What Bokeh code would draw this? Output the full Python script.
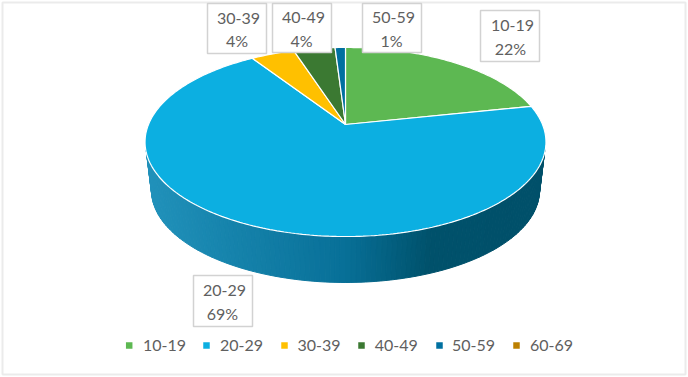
import numpy as np
from bokeh.plotting import figure
from bokeh.models import Range1d
from bokeh.core.properties import value
from bokeh.embed import file_html
from bokeh.resources import INLINE

categories = ["10-19", "20-29", "30-39", "40-49", "50-59", "60-69"]
shares = [21.7, 69.1, 4.2, 4.0, 1.0, 0.0]
colors = ["#5DB852", "#0CAFE1", "#FFC000", "#3B7932", "#0070A0", "#BC8000"]

# layout (page pixels)
W, H = 688, 377
CX, CY, AX, BY, K = 345.0, 124.0, 197.0, 91.3, 0.185
BOX = {"10-19": (480, 10, 539, 61, 512, 510), "20-29": (193, 275, 252, 326, 224, 222),
       "30-39": (207, 3, 266, 53, 238, 236.5), "40-49": (272, 3, 331, 52, 303, 301),
       "50-59": (362, 3, 421, 52, 393, 391)}
LEG_MARK = [128.7, 206, 284, 361, 439, 516]
LEG_TEXT = [142.5, 219.5, 297, 374.2, 451.5, 529.5]
FONT = value("Lato")
TXT = "#606060"
FS = "16px"


def project(angle):
    u, v = np.sin(angle), np.cos(angle)
    d = 1 + K * v
    return CX + AX * u / d, CY - BY * v / d


p = figure(width=W, height=H, output_backend="svg", toolbar_location=None,
           x_range=Range1d(0, W), y_range=Range1d(H, 0),
           min_border=0, outline_line_color=None, background_fill_color="white",
           border_fill_color="white")
p.axis.visible = False
p.grid.visible = False
p.styles = {"position": "absolute", "left": "0px", "top": "0px"}

# frame
p.quad(left=[2], right=[685], top=[2], bottom=[374], fill_color="white",
       line_color="#EBEBEB", line_width=2)

# side wall, shaded left to right
stops_x = [145, 345, 430, 545]
stops_c = [(33, 146, 187), (8, 112, 152), (0, 82, 108), (0, 80, 106)]
ts = np.linspace(np.pi, 0, 121)
xs_wall, ys_wall, cs_wall = [], [], []
for a, b in zip(ts[:-1], ts[1:]):
    xa, xb = 345 + 200 * np.cos(a), 345 + 200 * np.cos(b)
    qx = [xa, xb, 345 + 194 * np.cos(b), 345 + 194 * np.cos(a)]
    qy = [141.5 + 94.5 * np.sin(a), 141.5 + 94.5 * np.sin(b),
          190 + 92 * np.sin(b), 190 + 92 * np.sin(a)]
    m = (xa + xb) / 2
    rgb = [int(np.interp(m, stops_x, [c[i] for c in stops_c])) for i in range(3)]
    xs_wall.append(qx)
    ys_wall.append(qy)
    cs_wall.append("#%02x%02x%02x" % tuple(rgb))
p.patches(xs_wall, ys_wall, fill_color=cs_wall, line_color=cs_wall, line_width=1)

# pie top
start = 0.0
total = sum(shares)
for cat, share, col in zip(categories, shares, colors):
    if share <= 0:
        continue
    sweep = share / total * 2 * np.pi
    ang = np.linspace(start, start + sweep, max(3, int(share * 4)))
    ex, ey = project(ang)
    p.patch(np.r_[CX, ex], np.r_[CY, ey], fill_color=col, line_color="white", line_width=1.2)
    start += sweep

# data labels
for cat, share in zip(categories, shares):
    if share <= 0:
        continue
    x0, y0, x1, y1, tx1, tx2 = BOX[cat]
    p.quad(left=[x0], right=[x1], top=[y0], bottom=[y1], fill_color="white",
           line_color="#D2D2D2", line_width=1.5)
    mid = (y0 + y1) / 2
    p.text(x=[tx1], y=[mid - 10.5], text=[cat], text_font=FONT, text_font_size=FS,
           text_color=TXT, text_align="center", text_baseline="middle")
    p.text(x=[tx2], y=[mid + 12], text=["%d%%" % round(share)], text_font=FONT,
           text_font_size=FS, text_color=TXT, text_align="center", text_baseline="middle")

# legend
p.scatter(x=LEG_MARK, y=[345] * 6, marker="square", size=6.5, fill_color=colors, line_color=colors,
          line_width=0)
p.text(x=LEG_TEXT, y=[345] * 6, text=categories, text_font=FONT, text_font_size=FS,
       text_color=TXT, text_align="left", text_baseline="middle")

open("out.html", "w").write(file_html(p, INLINE))
